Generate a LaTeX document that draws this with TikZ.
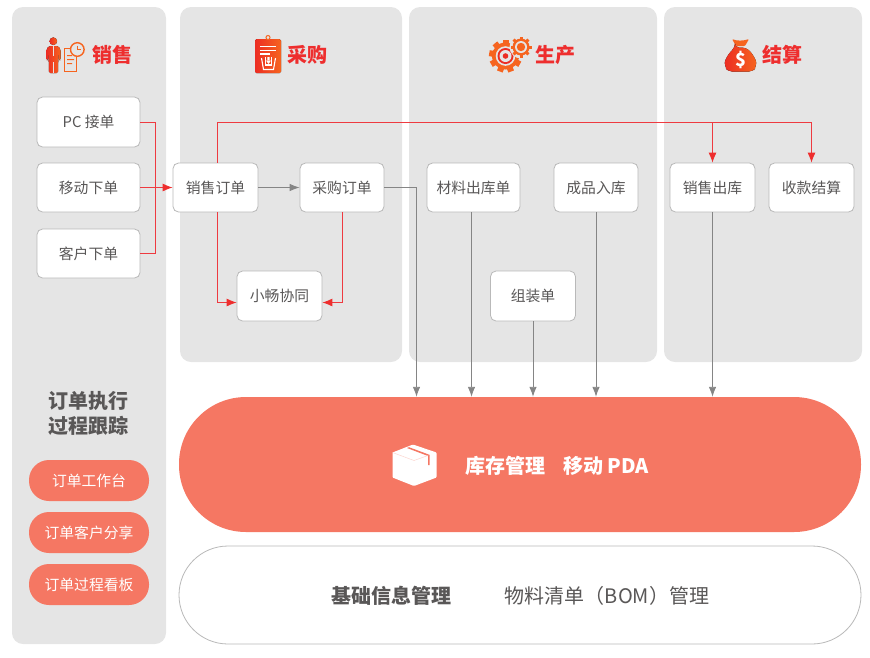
\documentclass[tikz,border=0pt]{standalone}
\usepackage{fontspec}
\setmainfont{Noto Sans CJK SC}
\usetikzlibrary{arrows.meta,calc}
\definecolor{panelc}{HTML}{E5E5E5}
\definecolor{salmon}{HTML}{F57763}
\definecolor{redc}{HTML}{EE2E2E}
\definecolor{linered}{HTML}{EE3A40}
\definecolor{greyl}{HTML}{858585}
\definecolor{txt}{HTML}{595757}
\definecolor{iconA}{HTML}{EC2D23}
\definecolor{iconB}{HTML}{F6641F}
\definecolor{boxb}{HTML}{B9B9B9}
\tikzset{
 panel/.style={fill=panelc,draw=none,rounded corners=11pt},
 flowbox/.style={draw=boxb,line width=.8pt,fill=white,rounded corners=5.5pt,inner sep=0pt,text=txt,font=\fontsize{14.8}{16}\selectfont},
 minipill/.style={fill=salmon,rounded corners=20pt,minimum width=120pt,minimum height=41pt,inner sep=0pt,text=white,font=\fontsize{14.8}{16}\selectfont},
 headline/.style={text=redc,font=\fontsize{20}{22}\selectfont\bfseries,inner sep=0pt},
 redarrow/.style={draw=linered,line width=.9pt,-{Latex[length=10pt,width=8pt,color=redc]}},
 redline/.style={draw=linered,line width=.9pt},
 greyarrow/.style={draw=greyl,line width=.9pt,-{Latex[length=10pt,width=7.5pt]}},
 iconfill/.style={left color=iconA,right color=iconB,draw=none},
}
\begin{document}
\begin{tikzpicture}[x=1pt,y=-1pt]
\useasboundingbox (0,0) rectangle (870,657);
% panels
\fill[panel] (12,7) rectangle (166,644);
\fill[panel] (180,7) rectangle (402,362);
\fill[panel] (409,7) rectangle (657,362);
\fill[panel] (664,7) rectangle (862,362);
% headings
\node[headline,anchor=west] (hsale) at (92,55) {销售};
\node[headline,anchor=west] (hbuy) at (287,55) {采购};
\node[headline,anchor=west] (hprod) at (535,55) {生产};
\node[headline,anchor=west] (hpay) at (762,55) {结算};
% icon: person + clock
\fill[iconfill] (53.3,41.2) circle (3.8);
\fill[iconfill,rounded corners=1.5pt] (49,46) -- (58,46) -- (60.5,49) -- (60.5,60) -- (59,60) -- (58.5,51) -- (58,73) -- (49,73) -- (48.5,51) -- (48,60) -- (46.5,60) -- (46.5,49) -- cycle;
\draw[panelc,line width=.9pt] (53.3,46) -- (53.3,56);
\draw[panelc,line width=.7pt] (53.3,62) -- (53.3,73);
\draw[iconB,line width=1pt,fill=panelc] (64.5,48) rectangle (76.5,71);
\fill[iconB] (67,55) rectangle (72,56) (67,59) rectangle (74,60) (67,63) rectangle (72,64);
\draw[iconB,line width=1.4pt,fill=panelc] (77.3,49.5) circle (6.8);
\draw[iconB,line width=1.1pt] (77.3,45.5) -- (77.3,49.7) -- (81,49.7);
% icon: clipboard
\fill[iconfill,rounded corners=1.5pt] (255,39) rectangle (281,73);
\draw[iconB,line width=1pt,fill=panelc] (268,37.5) circle (2);
\draw[white,line width=1.1pt] (260,46.5) -- (276,46.5) (260,50.5) -- (276,50.5) (260,54) -- (270,54);
\draw[white,line width=1.1pt] (261.5,58) -- (263.5,69.5) -- (273.5,69.5) -- (275.5,58);
\draw[white,line width=1.1pt] (265.5,57) -- (265.5,65) -- (271.5,65) -- (271.5,57);
\fill[white] (267.4,57) rectangle (269.6,61) (266,60.5) -- (271,60.5) -- (268.5,64) -- cycle;
% icon: gears
\foreach \a in {0,40,...,320}{\fill[iconB,rotate around={\a:(505.5,56)}] (502.5,39.5) rectangle (508.5,46);}
\fill[iconB] (505.5,56) circle (13.5);
\fill[panelc] (505.5,56) circle (9.8);
\fill[iconA] (505.5,56) circle (8);
\fill[panelc] (505.5,56) circle (6);
\fill[iconA] (505.5,56) circle (2.8);
\fill[panelc] (521,47) circle (11.5);
\foreach \a in {0,45,...,315}{\fill[iconB,rotate around={\a:(521,47)}] (519.5,36.5) rectangle (522.5,40);}
\fill[iconB] (521,47) circle (8.5);
\fill[panelc] (521,47) circle (6);
\fill[iconB] (521,47) circle (4.2);
% icon: money bag
\fill[iconB,rounded corners=1pt] (732,39) .. controls (737,41) and (743,41) .. (749,39) -- (745,46) -- (736,46) -- cycle;
\fill[iconfill,rounded corners=4pt] (735,47.5) -- (746,47.5) .. controls (752,53) and (756.5,60) .. (756,67) -- (753,71.5) -- (728,71.5) -- (725,67) .. controls (724.5,60) and (729,53) .. (735,47.5) -- cycle;
\node[inner sep=0pt,text=white,font=\fontsize{18}{18}\selectfont\bfseries] (dollar) at (740.5,60) {\$};
% flow boxes
\node[flowbox,minimum width=103pt,minimum height=50pt] (pc) at (88.5,122) {PC 接单};
\node[flowbox,minimum width=103pt,minimum height=49pt] (mobile) at (88.5,187.5) {移动下单};
\node[flowbox,minimum width=103pt,minimum height=49pt] (client) at (88.5,253.5) {客户下单};
\node[flowbox,minimum width=85pt,minimum height=49pt] (salesorder) at (215.5,187.5) {销售订单};
\node[flowbox,minimum width=84pt,minimum height=49pt] (buyorder) at (342,187.5) {采购订单};
\node[flowbox,minimum width=85pt,minimum height=50pt] (xiaochang) at (279.5,296) {小畅协同};
\node[flowbox,minimum width=93pt,minimum height=49pt] (material) at (473.5,187.5) {材料出库单};
\node[flowbox,minimum width=84pt,minimum height=49pt] (finished) at (596,187.5) {成品入库};
\node[flowbox,minimum width=85pt,minimum height=50pt] (assembly) at (533,296) {组装单};
\node[flowbox,minimum width=85pt,minimum height=49pt] (salesout) at (712.5,187.5) {销售出库};
\node[flowbox,minimum width=85pt,minimum height=49pt] (settle) at (811.5,187.5) {收款结算};
% big pills
\node[fill=salmon,rounded corners=67pt,minimum width=682pt,minimum height=135pt,inner sep=0pt] (stock) at (520,464.5) {};
\node[draw=boxb,line width=.8pt,fill=white,rounded corners=49pt,minimum width=682pt,minimum height=98pt,inner sep=0pt] (base) at (520,595) {};
\node[inner sep=0pt,text=white,font=\fontsize{20}{22}\selectfont\bfseries] (stocktxt) at (557,465.5) {库存管理\hspace{18pt}移动 PDA};
\node[inner sep=0pt,text=txt,font=\fontsize{20}{24}\selectfont\bfseries] (basetxt) at (391.5,595.5) {基础信息管理};
\node[inner sep=0pt,text=txt,font=\fontsize{20}{24}\selectfont] (bomtxt) at (607,595.5) {物料清单（BOM）管理};
% box icon
\fill[white,rounded corners=.8pt] (392.5,452.5) -- (413,444.5) -- (436.5,452.5) -- (436.5,477.5) -- (414,486) -- (392.5,477.5) -- cycle;
\fill[salmon] (407,448) -- (409,447.2) -- (429.5,454.8) -- (429.5,465) -- (428,465) -- (428,456) -- cycle;
\draw[salmon!30!white,line width=.5pt] (392.5,452.5) -- (414,460.5) -- (428,455.5);
% left column
\node[inner sep=0pt,text=txt,align=center,font=\fontsize{20}{24.5}\selectfont\bfseries] (track) at (88.5,413.5) {订单执行\\过程跟踪};
\node[minipill] (p1) at (89,480.5) {订单工作台};
\node[minipill] (p2) at (89,532.5) {订单客户分享};
\node[minipill] (p3) at (89,584.5) {订单过程看板};
% routing coordinates
\coordinate (merge) at (155,187.5);
\coordinate (bus) at (217,122);
\coordinate (busend) at (811.5,122);
\coordinate (busmid) at (712.5,122);
\coordinate (inlevel) at (0,302.5);
\coordinate (xstockA) at (416.5,0);
\coordinate (xstockB) at (471.5,0);
% red connectors
\draw[redline] (pc.east) -| (merge);
\draw[redline] (client.east) -| (merge);
\draw[redarrow] (mobile.east) -- (salesorder.west);
\draw[redline] (bus |- salesorder.north) -- (bus) -- (busend);
\draw[redarrow] (busmid) -- (salesout.north);
\draw[redarrow] (busend) -- (settle.north);
\draw[redarrow] (bus |- salesorder.south) |- (xiaochang.west |- inlevel);
\draw[redarrow] (buyorder.south) |- (xiaochang.east |- inlevel);
% grey connectors
\draw[greyarrow] (salesorder.east) -- (buyorder.west);
\draw[greyarrow] (buyorder.east) -| (xstockA |- stock.north);
\draw[greyarrow] (xstockB |- material.south) -- (xstockB |- stock.north);
\draw[greyarrow] (assembly.south) -- (assembly.south |- stock.north);
\draw[greyarrow] (finished.south) -- (finished.south |- stock.north);
\draw[greyarrow] (salesout.south) -- (salesout.south |- stock.north);
\end{tikzpicture}
\end{document}
